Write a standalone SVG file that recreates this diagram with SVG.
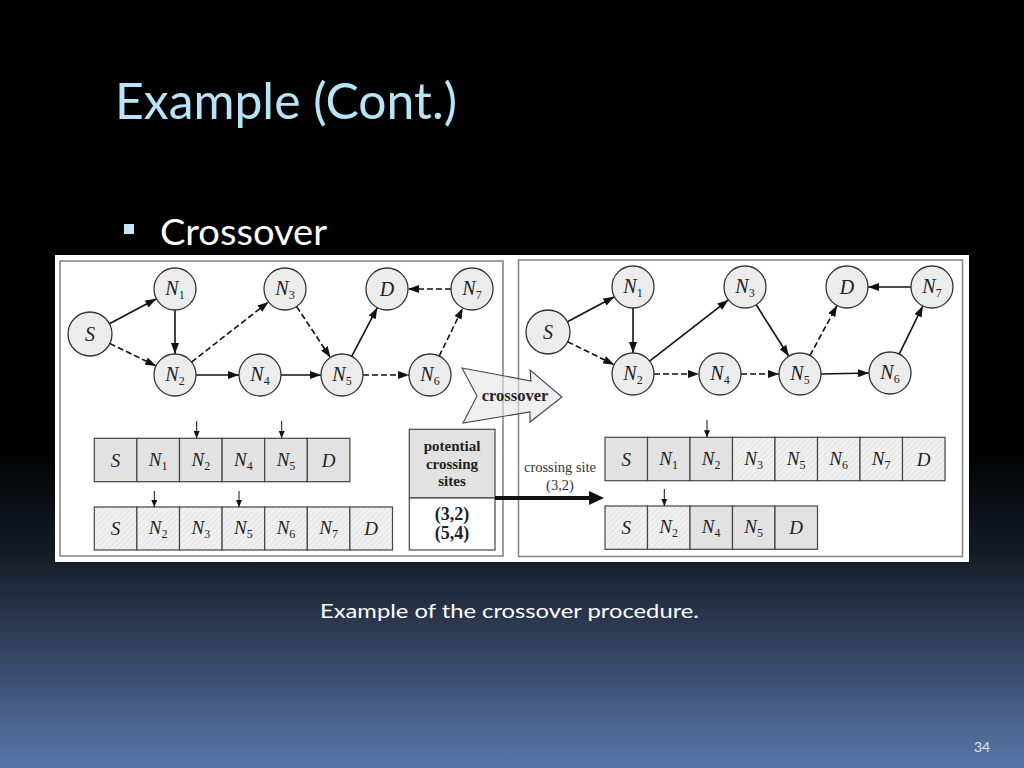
<svg xmlns="http://www.w3.org/2000/svg" width="1024" height="768" viewBox="0 0 1024 768">
<defs>
<linearGradient id="bg" gradientUnits="userSpaceOnUse" x1="0" y1="0" x2="0" y2="768">
<stop offset="0" stop-color="#000"/>
<stop offset="0.58" stop-color="#000"/>
<stop offset="0.72" stop-color="#151b26"/>
<stop offset="1" stop-color="#5a76a8"/>
</linearGradient>
<pattern id="hatch" patternUnits="userSpaceOnUse" width="4" height="4" patternTransform="rotate(45)">
<rect width="4" height="4" fill="#f1f1f1"/>
<line x1="0" y1="0" x2="0" y2="4" stroke="#dadada" stroke-width="1.2"/>
</pattern>
<marker id="ah" markerUnits="userSpaceOnUse" markerWidth="11" markerHeight="8" refX="11" refY="4" orient="auto">
<path d="M0,0 L11,4 L0,8 z" fill="#111"/>
</marker>
<marker id="sa" markerUnits="userSpaceOnUse" markerWidth="6" markerHeight="7" refX="3" refY="7" orient="0">
<path d="M0,0 L3,7 L6,0 z" fill="#111"/>
</marker>
<style>
.nd circle{fill:#ececec;stroke:#333;stroke-width:1.3}
.lbl{font-family:"Liberation Serif",serif;font-style:italic;font-size:20px;fill:#222;text-anchor:middle}
.sub{font-size:12px;font-style:normal}
.e{stroke:#111;stroke-width:1.6;fill:none;marker-end:url(#ah)}
.d{stroke-dasharray:6 3}
.cs{fill:#e2e2e2;stroke:#444;stroke-width:1.2}
.ch{fill:url(#hatch);stroke:#444;stroke-width:1.2}
.tl{font-family:"Liberation Serif",serif;font-style:italic;font-size:19px;fill:#222;text-anchor:middle}
.tk{stroke:#111;stroke-width:1;marker-end:url(#sa)}
.panel{fill:#fff;stroke:#888;stroke-width:1.6}
.bold{font-family:"Liberation Serif",serif;font-weight:bold;fill:#222;text-anchor:middle}
</style>
</defs>

<rect x="0" y="0" width="1024" height="768" fill="url(#bg)"/>

<text x="115" y="119" font-family="Lato, 'Open Sans', sans-serif" font-size="50" fill="#b9e3f7" textLength="342" lengthAdjust="spacingAndGlyphs">Example (Cont.)</text>
<rect x="124" y="224" width="10" height="10" fill="#c6e6f6"/>
<text x="160" y="245" font-family="Lato, 'Open Sans', sans-serif" font-size="36" fill="#fff" textLength="167" lengthAdjust="spacingAndGlyphs">Crossover</text>

<rect x="55" y="255" width="914" height="307" fill="#fff"/>
<rect class="panel" x="60" y="261" width="443" height="295"/>
<rect class="panel" x="518.5" y="260" width="444" height="296.5"/>

<!-- left connectors -->
<g id="connectors-left">
<line class="e" x1="109.4" y1="323.7" x2="156.4" y2="298.8"/>
<line class="e d" x1="109.8" y1="343.5" x2="156.1" y2="365.9"/>
<line class="e" x1="175" y1="310" x2="175" y2="354"/>
<line class="e d" x1="191.5" y1="362.1" x2="268.5" y2="301.9"/>
<line class="e" x1="196" y1="375" x2="239" y2="375"/>
<line class="e" x1="281" y1="375" x2="321" y2="375"/>
<line class="e d" x1="296.6" y1="306.5" x2="330.4" y2="357.5"/>
<line class="e" x1="351.7" y1="356.4" x2="377.3" y2="307.6"/>
<line class="e d" x1="363" y1="375" x2="409" y2="375"/>
<line class="e d" x1="439.2" y1="356.1" x2="462.8" y2="307.9"/>
<line class="e d" x1="451" y1="289" x2="408" y2="289"/>
</g>

<!-- left nodes -->
<g id="L-S" class="nd"><circle cx="90" cy="334" r="22"/><text class="lbl" x="90" y="341">S</text></g>
<g id="L-N1" class="nd"><circle cx="175" cy="289" r="21"/><text class="lbl" x="175" y="295">N<tspan class="sub" dy="4">1</tspan></text></g>
<g id="L-N2" class="nd"><circle cx="175" cy="375" r="21"/><text class="lbl" x="175" y="381">N<tspan class="sub" dy="4">2</tspan></text></g>
<g id="L-N3" class="nd"><circle cx="285" cy="289" r="21"/><text class="lbl" x="285" y="295">N<tspan class="sub" dy="4">3</tspan></text></g>
<g id="L-N4" class="nd"><circle cx="260" cy="375" r="21"/><text class="lbl" x="260" y="381">N<tspan class="sub" dy="4">4</tspan></text></g>
<g id="L-N5" class="nd"><circle cx="342" cy="375" r="21"/><text class="lbl" x="342" y="381">N<tspan class="sub" dy="4">5</tspan></text></g>
<g id="L-D" class="nd"><circle cx="387" cy="289" r="21"/><text class="lbl" x="387" y="296">D</text></g>
<g id="L-N7" class="nd"><circle cx="472" cy="289" r="21"/><text class="lbl" x="472" y="295">N<tspan class="sub" dy="4">7</tspan></text></g>
<g id="L-N6" class="nd"><circle cx="430" cy="375" r="21"/><text class="lbl" x="430" y="381">N<tspan class="sub" dy="4">6</tspan></text></g>

<!-- right connectors -->
<g id="connectors-right">
<line class="e" x1="567.4" y1="321.7" x2="614.4" y2="296.8"/>
<line class="e d" x1="567.7" y1="341.7" x2="614.2" y2="364.7"/>
<line class="e" x1="633" y1="308" x2="633" y2="353"/>
<line class="e" x1="649.6" y1="361.1" x2="728.4" y2="299.9"/>
<line class="e d" x1="654" y1="374" x2="699" y2="374"/>
<line class="e d" x1="741" y1="374" x2="779" y2="374"/>
<line class="e" x1="756.2" y1="304.7" x2="788.8" y2="356.3"/>
<line class="e d" x1="810" y1="355.5" x2="837" y2="305.5"/>
<line class="e" x1="821" y1="374" x2="869" y2="373"/>
<line class="e" x1="899.2" y1="354.1" x2="922.8" y2="305.9"/>
<line class="e" x1="911" y1="287" x2="868" y2="287"/>
</g>

<!-- right nodes -->
<g id="R-S" class="nd"><circle cx="548" cy="332" r="22"/><text class="lbl" x="548" y="339">S</text></g>
<g id="R-N1" class="nd"><circle cx="633" cy="287" r="21"/><text class="lbl" x="633" y="293">N<tspan class="sub" dy="4">1</tspan></text></g>
<g id="R-N2" class="nd"><circle cx="633" cy="374" r="21"/><text class="lbl" x="633" y="380">N<tspan class="sub" dy="4">2</tspan></text></g>
<g id="R-N3" class="nd"><circle cx="745" cy="287" r="21"/><text class="lbl" x="745" y="293">N<tspan class="sub" dy="4">3</tspan></text></g>
<g id="R-N4" class="nd"><circle cx="720" cy="374" r="21"/><text class="lbl" x="720" y="380">N<tspan class="sub" dy="4">4</tspan></text></g>
<g id="R-N5" class="nd"><circle cx="800" cy="374" r="21"/><text class="lbl" x="800" y="380">N<tspan class="sub" dy="4">5</tspan></text></g>
<g id="R-D" class="nd"><circle cx="847" cy="287" r="21"/><text class="lbl" x="847" y="294">D</text></g>
<g id="R-N7" class="nd"><circle cx="932" cy="287" r="21"/><text class="lbl" x="932" y="293">N<tspan class="sub" dy="4">7</tspan></text></g>
<g id="R-N6" class="nd"><circle cx="890" cy="373" r="21"/><text class="lbl" x="890" y="379">N<tspan class="sub" dy="4">6</tspan></text></g>

<!-- crossover arrow -->
<g id="crossover-arrow">
<polygon points="462,368 531,381 530,370 562,397 530,422 530,412 463,423 477,396" fill="#e6e6e6" fill-opacity="0.6" stroke="#444" stroke-width="1.1"/>
<text class="bold" x="515" y="401" font-size="16.5">crossover</text>
</g>

<!-- left chromosome 1 -->
<g id="L-chrom1">
<rect class="cs" x="94.3" y="438.3" width="42.6" height="43.4"/>
<rect class="cs" x="136.9" y="438.3" width="42.6" height="43.4"/>
<rect class="cs" x="179.5" y="438.3" width="42.6" height="43.4"/>
<rect class="cs" x="222.1" y="438.3" width="42.6" height="43.4"/>
<rect class="cs" x="264.7" y="438.3" width="42.6" height="43.4"/>
<rect class="cs" x="307.3" y="438.3" width="42.6" height="43.4"/>
<text class="tl" x="115.6" y="467">S</text>
<text class="tl" x="158.2" y="466">N<tspan class="sub" dy="4">1</tspan></text>
<text class="tl" x="200.8" y="466">N<tspan class="sub" dy="4">2</tspan></text>
<text class="tl" x="243.4" y="466">N<tspan class="sub" dy="4">4</tspan></text>
<text class="tl" x="286" y="466">N<tspan class="sub" dy="4">5</tspan></text>
<text class="tl" x="328.6" y="467">D</text>
<line class="tk" x1="196.7" y1="421" x2="196.7" y2="438"/>
<line class="tk" x1="281.7" y1="421" x2="281.7" y2="438"/>
</g>

<!-- left chromosome 2 -->
<g id="L-chrom2">
<rect class="ch" x="94.3" y="507" width="42.6" height="43"/>
<rect class="ch" x="136.9" y="507" width="42.6" height="43"/>
<rect class="ch" x="179.5" y="507" width="42.6" height="43"/>
<rect class="ch" x="222.1" y="507" width="42.6" height="43"/>
<rect class="ch" x="264.7" y="507" width="42.6" height="43"/>
<rect class="ch" x="307.3" y="507" width="42.6" height="43"/>
<rect class="ch" x="349.9" y="507" width="42.6" height="43"/>
<text class="tl" x="115.6" y="535">S</text>
<text class="tl" x="158.2" y="534">N<tspan class="sub" dy="4">2</tspan></text>
<text class="tl" x="200.8" y="534">N<tspan class="sub" dy="4">3</tspan></text>
<text class="tl" x="243.4" y="534">N<tspan class="sub" dy="4">5</tspan></text>
<text class="tl" x="286" y="534">N<tspan class="sub" dy="4">6</tspan></text>
<text class="tl" x="328.6" y="534">N<tspan class="sub" dy="4">7</tspan></text>
<text class="tl" x="371.2" y="535">D</text>
<line class="tk" x1="154.3" y1="491" x2="154.3" y2="507"/>
<line class="tk" x1="239" y1="491" x2="239" y2="507"/>
</g>

<!-- potential crossing sites box -->
<g id="sites-box">
<rect x="409.3" y="429.3" width="85.7" height="68.7" fill="#e2e2e2" stroke="#444" stroke-width="1.2"/>
<rect x="409.3" y="498" width="85.7" height="52" fill="#fff" stroke="#444" stroke-width="1.2"/>
<text class="bold" x="452" y="451" font-size="15">potential</text>
<text class="bold" x="452" y="468.5" font-size="15">crossing</text>
<text class="bold" x="452" y="486" font-size="15">sites</text>
<text class="bold" x="452" y="520" font-size="18">(3,2)</text>
<text class="bold" x="452" y="539" font-size="18">(5,4)</text>
</g>

<!-- crossing site arrow -->
<g id="site-arrow">
<line x1="495" y1="498" x2="592" y2="498" stroke="#111" stroke-width="4"/>
<polygon points="589,491 604,498 589,505" fill="#111"/>
<text x="560" y="472" font-family="'Liberation Serif', serif" font-size="14.5" fill="#333" text-anchor="middle">crossing site</text>
<text x="560" y="490" font-family="'Liberation Serif', serif" font-size="14.5" fill="#333" text-anchor="middle">(3,2)</text>
</g>

<!-- right chromosome 1 -->
<g id="R-chrom1">
<rect class="cs" x="605" y="437.3" width="42.5" height="43.4"/>
<rect class="cs" x="647.5" y="437.3" width="42.5" height="43.4"/>
<rect class="cs" x="690" y="437.3" width="42.5" height="43.4"/>
<rect class="ch" x="732.5" y="437.3" width="42.5" height="43.4"/>
<rect class="ch" x="775" y="437.3" width="42.5" height="43.4"/>
<rect class="ch" x="817.5" y="437.3" width="42.5" height="43.4"/>
<rect class="ch" x="860" y="437.3" width="42.5" height="43.4"/>
<rect class="ch" x="902.5" y="437.3" width="42.5" height="43.4"/>
<text class="tl" x="626.2" y="466">S</text>
<text class="tl" x="668.7" y="465">N<tspan class="sub" dy="4">1</tspan></text>
<text class="tl" x="711.2" y="465">N<tspan class="sub" dy="4">2</tspan></text>
<text class="tl" x="753.7" y="465">N<tspan class="sub" dy="4">3</tspan></text>
<text class="tl" x="796.2" y="465">N<tspan class="sub" dy="4">5</tspan></text>
<text class="tl" x="838.7" y="465">N<tspan class="sub" dy="4">6</tspan></text>
<text class="tl" x="881.2" y="465">N<tspan class="sub" dy="4">7</tspan></text>
<text class="tl" x="923.7" y="466">D</text>
<line class="tk" x1="707" y1="420" x2="707" y2="437.3"/>
</g>

<!-- right chromosome 2 -->
<g id="R-chrom2">
<rect class="ch" x="605" y="506" width="42.5" height="43.3"/>
<rect class="ch" x="647.5" y="506" width="42.5" height="43.3"/>
<rect class="cs" x="690" y="506" width="42.5" height="43.3"/>
<rect class="cs" x="732.5" y="506" width="42.5" height="43.3"/>
<rect class="cs" x="775" y="506" width="42.5" height="43.3"/>
<text class="tl" x="626.2" y="534">S</text>
<text class="tl" x="668.7" y="533">N<tspan class="sub" dy="4">2</tspan></text>
<text class="tl" x="711.2" y="533">N<tspan class="sub" dy="4">4</tspan></text>
<text class="tl" x="753.7" y="533">N<tspan class="sub" dy="4">5</tspan></text>
<text class="tl" x="796.2" y="534">D</text>
<line class="tk" x1="664.3" y1="489" x2="664.3" y2="506"/>
</g>

<text x="509.5" y="618" font-family="Lato, 'Open Sans', sans-serif" font-size="20" fill="#fff" text-anchor="middle" textLength="379" lengthAdjust="spacingAndGlyphs">Example of the crossover procedure.</text>
<text x="974" y="752" font-family="Lato, 'Open Sans', sans-serif" font-size="14" fill="#dfe6f2">34</text>
</svg>
